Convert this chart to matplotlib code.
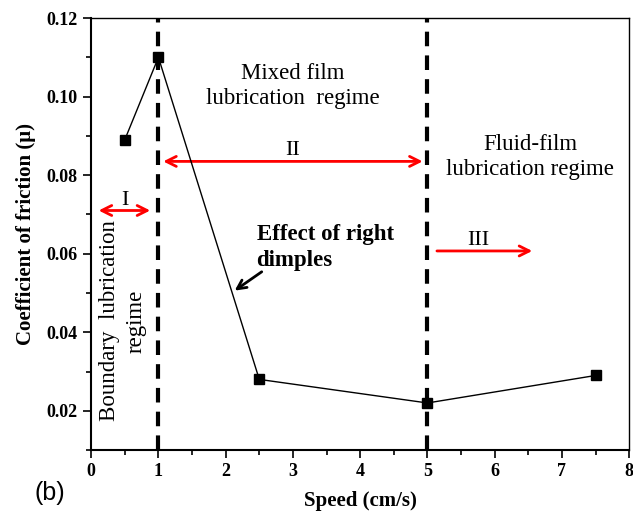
import matplotlib.pyplot as plt
from matplotlib.ticker import MultipleLocator

plt.rcParams['font.family'] = ['Liberation Serif', 'DejaVu Serif']

speed = [0.5, 1.0, 2.5, 5.0, 7.5]
friction = [0.089, 0.110, 0.028, 0.022, 0.029]
regime_bounds = [1, 5]

fig = plt.figure(figsize=(6.33, 5.15), dpi=100)
ax = fig.add_axes([0.144, 0.126, 0.850, 0.839])

ax.plot(speed, friction, color='black', lw=1, marker='s', ms=6.5, mfc='black', mec='black', zorder=5)
for xb in regime_bounds:
    ax.axvline(xb, color='black', lw=3, ls=(0, (3.5, 2.2)), zorder=3)

ax.set_xlim(0, 8)
ax.set_ylim(0.01, 0.12)
ax.xaxis.set_major_locator(MultipleLocator(1))
ax.xaxis.set_minor_locator(MultipleLocator(0.5))
ax.yaxis.set_minor_locator(MultipleLocator(0.01))
ax.set_yticks([0.02, 0.04, 0.06, 0.08, 0.10, 0.12])
ax.set_yticklabels(['0.02', '0.04', '0.06', '0.08', '0.10', '0.12'])
ax.tick_params(which='major', direction='out', length=6, width=1.2, labelsize=13)
ax.tick_params(which='minor', direction='out', length=3.5, width=1.2)
for lab in ax.get_xticklabels() + ax.get_yticklabels():
    lab.set_fontweight('bold')
for s in ['left', 'bottom']:
    ax.spines[s].set_linewidth(1.5)
for s in ['top', 'right']:
    ax.spines[s].set_linewidth(1)

ax.set_xlabel('Speed (cm/s)', fontsize=15, fontweight='bold', labelpad=8)
ax.set_ylabel('Coefficient of friction (\u03bc)', fontsize=15, fontweight='bold', labelpad=8)

red = '#ff0000'
arr = dict(arrowstyle='<->', color=red, lw=2, mutation_scale=18)
ax.annotate('', xy=(0.07, 0.071), xytext=(0.92, 0.071), arrowprops=arr)
ax.annotate('', xy=(1.03, 0.0835), xytext=(4.97, 0.0835), arrowprops=arr)
ax.annotate('', xy=(6.6, 0.0607), xytext=(5.1, 0.0607),
            arrowprops=dict(arrowstyle='->', color=red, lw=2, mutation_scale=18))

ax.text(0.5, 0.0712, 'I', fontsize=16, ha='center', va='bottom')
ax.text(3.0, 0.0838, 'II', fontsize=16, ha='center', va='bottom')
ax.text(5.75, 0.0610, 'III', fontsize=16, ha='center', va='bottom')

ax.text(3.0, 0.1027, 'Mixed film\nlubrication  regime', fontsize=16.5, ha='center', va='center',
        linespacing=1.3)
ax.text(6.53, 0.0846, 'Fluid-film\nlubrication regime', fontsize=16.5, ha='center', va='center',
        linespacing=1.3)
ax.text(0.47, 0.0429, 'Boundary  lubrication\nregime', fontsize=16.5, ha='center', va='center',
        rotation=90, linespacing=1.4)
ax.text(2.46, 0.0615, 'Effect of right\ndimples', fontsize=16.5, fontweight='bold',
        ha='left', va='center', linespacing=1.3)
ax.annotate('', xy=(2.1, 0.0502), xytext=(2.57, 0.0558),
            arrowprops=dict(arrowstyle='->', color='black', lw=2, mutation_scale=16))

fig.text(0.055, 0.043, '(b)', fontsize=18, family='Liberation Sans', ha='left', va='center')

fig.savefig('out.png', dpi=100)
